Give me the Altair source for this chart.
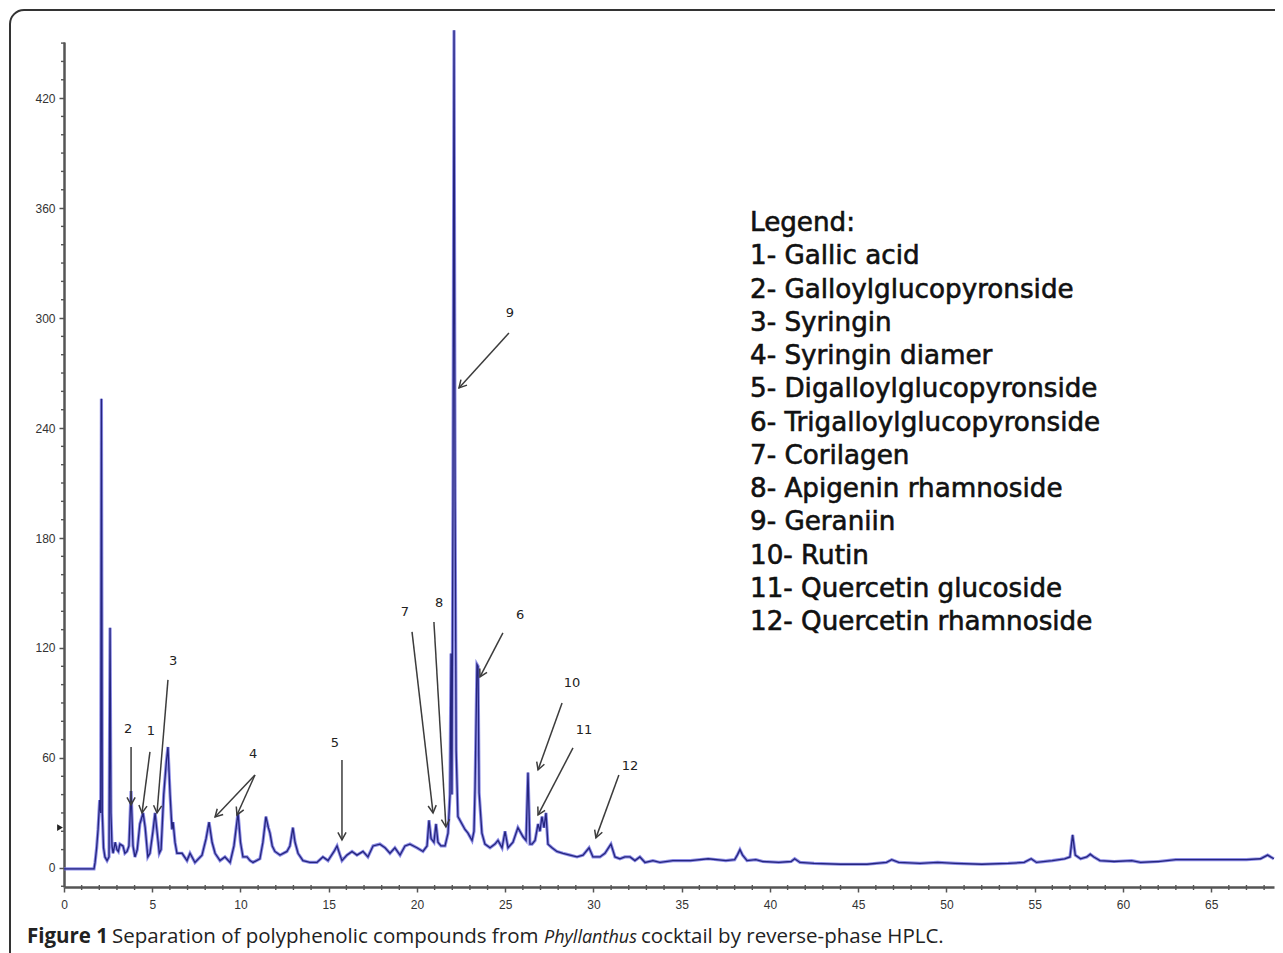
import math
import altair as alt
import pandas as pd

# ---------------- data ----------------
time_min = [
    0.00, 1.70, 1.76, 1.85, 1.93, 2.02, 2.08, 2.12, 2.17, 2.24, 2.32, 2.44, 2.55, 2.61, 2.66, 2.72,
    2.78, 2.90, 3.00, 3.08, 3.17, 3.34, 3.45, 3.57, 3.68, 3.80, 3.91, 4.02, 4.15, 4.30, 4.48, 4.60,
    4.75, 4.87, 5.04, 5.16, 5.27, 5.40, 5.50, 5.65, 5.80, 5.89, 6.01, 6.12, 6.18, 6.29, 6.40, 6.69,
    6.97, 7.14, 7.42, 7.82, 8.05, 8.22, 8.39, 8.56, 8.84, 9.12, 9.41, 9.63, 9.86, 10.00, 10.14, 10.37,
    10.54, 10.71, 11.10, 11.27, 11.44, 11.58, 11.67, 11.80, 11.95, 12.24, 12.63, 12.80, 12.97, 13.09,
    13.26, 13.54, 13.94, 14.33, 14.67, 14.96, 15.30, 15.47, 15.64, 15.75, 16.03, 16.32, 16.60, 16.94,
    17.22, 17.51, 17.90, 18.19, 18.47, 18.75, 19.04, 19.32, 19.60, 20.00, 20.34, 20.57, 20.68, 20.80,
    20.96, 21.08, 21.19, 21.36, 21.59, 21.76, 21.87, 21.93, 21.98, 22.04, 22.10, 22.16, 22.22, 22.32,
    22.55, 22.72, 22.89, 23.12, 23.23, 23.29, 23.40, 23.46, 23.52, 23.68, 23.85, 24.14, 24.42, 24.59,
    24.82, 24.99, 25.16, 25.44, 25.72, 26.01, 26.18, 26.29, 26.40, 26.52, 26.69, 26.86, 26.97, 27.08,
    27.20, 27.31, 27.42, 27.65, 27.93, 28.27, 28.67, 29.07, 29.41, 29.75, 29.97, 30.37, 30.65, 30.99,
    31.22, 31.50, 31.78, 32.07, 32.35, 32.63, 32.92, 33.37, 33.77, 34.50, 35.50, 36.50, 37.50, 38.00,
    38.15, 38.30, 38.45, 38.70, 39.20, 39.60, 40.50, 41.20, 41.40, 41.70, 42.50, 44.00, 45.50, 46.60,
    46.90, 47.30, 48.50, 49.50, 50.50, 52.00, 53.50, 54.40, 54.80, 55.10, 56.00, 56.70, 57.00, 57.15,
    57.30, 57.60, 57.95, 58.15, 58.35, 58.70, 59.50, 60.50, 61.00, 62.00, 63.00, 64.00, 65.00, 66.00,
    67.00, 67.80, 68.20, 68.55,
]
absorbance = [
    -0.5, -0.5, 3, 11, 21, 37, 30, 256, 30, 11, 6, 4, 6, 131, 30, 12,
    8, 14, 10, 9, 13, 12, 8, 9, 12, 42, 12, 6, 10, 24, 30, 22,
    6, 8, 20, 30, 20, 8, 10, 40, 58, 66, 40, 21, 25, 14, 8, 8,
    4, 8, 3, 7, 16, 25, 14, 8, 4, 6, 3, 12, 30, 14, 6, 6,
    4, 3, 5, 14, 28, 22, 19, 12, 9, 7, 9, 12, 22, 14,
    8, 4, 3, 3, 6, 4, 9, 12, 7, 4, 7, 9, 7, 9,
    6, 12, 13, 11, 8, 11, 7, 12, 13, 11, 9, 12, 26, 16,
    14, 24, 14, 12, 12, 19, 40, 117, 40, 200, 457, 200, 64, 28,
    24, 21, 19, 15, 20, 43, 111, 110, 41, 19, 13, 11, 13, 15,
    11, 20, 11, 14, 22, 17, 15, 52, 13, 13, 15, 24, 20, 28,
    22, 30, 13, 11, 9, 8, 7, 6, 7, 11, 6, 6, 8, 13,
    6, 5, 6, 6, 4, 6, 3, 4, 3, 4, 4, 5, 4, 4.5,
    7, 10, 7, 4, 4.5, 3.5, 3, 3.5, 5, 3, 2.5, 2, 2, 3,
    4.5, 3, 2.5, 3, 2.5, 2, 2.5, 3, 5, 3, 4, 5, 6, 18,
    7, 5, 6, 7.5, 6, 4, 3.5, 4, 3, 3.5, 4.5, 4.5, 4.5, 4.5,
    4.5, 5, 7, 5,
]

peak_numbers = ["1", "2", "3", "4", "5", "6", "7", "8", "9", "10", "11", "12"]
compound_names = [
    "Gallic acid", "Galloylglucopyronside", "Syringin", "Syringin diamer",
    "Digalloylglucopyronside", "Trigalloylglucopyronside", "Corilagen",
    "Apigenin rhamnoside", "Geraniin", "Rutin", "Quercetin glucoside",
    "Quercetin rhamnoside",
]

x_ticks = [0, 5, 10, 15, 20, 25, 30, 35, 40, 45, 50, 55, 60, 65]
y_ticks = [0, 60, 120, 180, 240, 300, 360, 420]
x_minor = [t for t in range(0, 69) if t % 5]
y_minor = [v for v in range(-10, 451, 10) if v % 60]

# annotation arrows: peak label, tail (time, value), tip (time, value)
arrow_label = ["2", "1", "3", "4", "4", "5", "7", "8", "9", "6", "10", "11", "12"]
arrow_from_t = [3.80, 4.87, 5.89, 10.82, 10.82, 15.75, 19.72, 20.96, 25.21, 24.87, 28.22, 28.84, 31.44]
arrow_from_v = [66.0, 63.3, 102.6, 50.7, 50.7, 58.9, 128.8, 134.2, 291.9, 128.2, 90.0, 65.5, 50.7]
arrow_to_t = [3.80, 4.42, 5.27, 8.56, 9.80, 15.75, 20.91, 21.64, 22.38, 23.57, 26.86, 26.86, 30.14]
arrow_to_v = [34.4, 30.0, 30.0, 27.8, 28.9, 15.3, 30.0, 22.4, 261.9, 104.2, 53.5, 28.9, 16.4]

label_text = ["2", "1", "3", "4", "5", "7", "8", "9", "6", "10", "11", "12"]
label_t = [3.63, 4.93, 6.18, 10.71, 15.35, 19.32, 21.25, 25.27, 25.84, 28.78, 29.46, 32.07]
label_v = [75.8, 74.7, 112.9, 62.2, 68.2, 139.7, 144.6, 302.8, 138.0, 100.9, 75.3, 55.6]

marker_v = [22]

# ---------------- layout ----------------
W, H = 1210, 845
XMAX = 68.56
YMIN, YMAX = -10.4, 450.6
SX = W / XMAX
SY = H / (YMAX - YMIN)
PAD_L, PAD_T = 56, 34


def px_t(page_x):
    return (page_x - 8 - PAD_L) / SX


def px_v(page_y):
    return YMAX - (page_y - 8 - PAD_T) / SY


xscale = alt.Scale(domain=[0, XMAX], nice=False, zero=False)
yscale = alt.Scale(domain=[YMIN, YMAX], nice=False, zero=False)

AX = dict(title=None, grid=False, domainColor="#555555", domainWidth=2.5,
          tickColor="#555555", tickWidth=1.5, tickSize=5,
          labelFont="Liberation Sans", labelFontSize=12, labelColor="#333333")

x_axis = alt.Axis(values=x_ticks, labelFlush=False, labelPadding=7, **AX)
y_axis = alt.Axis(values=y_ticks, labelPadding=4, **AX)


def X(f):
    return alt.X(f, scale=xscale, axis=x_axis)


def Y(f):
    return alt.Y(f, scale=yscale, axis=y_axis)


trace_df = pd.DataFrame({"t": time_min, "v": absorbance})
one = pd.DataFrame({"k": [0]})

frame = alt.Chart(one).mark_rect(
    fillOpacity=0, stroke="#333333", strokeWidth=2, cornerRadius=14
).encode(x=alt.value(-54), x2=alt.value(1250), y=alt.value(-32), y2=alt.value(960))

xm = alt.Chart(pd.DataFrame({"t": x_minor})).mark_rule(color="#555555", strokeWidth=1.4).encode(
    x=X("t:Q"), y=alt.value(H - 2), y2=alt.value(H + 3))
ym = alt.Chart(pd.DataFrame({"v": y_minor})).mark_rule(color="#555555", strokeWidth=1.4).encode(
    y=Y("v:Q"), x=alt.value(-3), x2=alt.value(1))

halo = alt.Chart(trace_df).mark_line(color="#7070e0", strokeWidth=3.2, opacity=0.8).encode(
    x=X("t:Q"), y=Y("v:Q"))
core = alt.Chart(trace_df).mark_line(color="#25257e", strokeWidth=1.3).encode(
    x=X("t:Q"), y=Y("v:Q"))

marker = alt.Chart(pd.DataFrame({"v": marker_v})).mark_point(
    shape="triangle-right", filled=True, color="#222222", size=45, opacity=1
).encode(x=alt.value(-4), y=Y("v:Q"))

angles = []
for t1, v1, t2, v2 in zip(arrow_from_t, arrow_from_v, arrow_to_t, arrow_to_v):
    dx = (t2 - t1) * SX
    dy = -(v2 - v1) * SY
    angles.append(math.degrees(math.atan2(-dx, dy)) % 360)

arr_df = pd.DataFrame({"lab": arrow_label, "t1": arrow_from_t, "v1": arrow_from_v,
                       "t2": arrow_to_t, "v2": arrow_to_v, "ang": angles})

rules = alt.Chart(arr_df).mark_rule(color="#3c3c3c", strokeWidth=1.5).encode(
    x=X("t1:Q"), y=Y("v1:Q"), x2="t2:Q", y2="v2:Q")
heads = alt.Chart(arr_df).mark_point(
    shape="M -0.55 -1 L 0 0 L 0.55 -1", filled=False, size=220, color="#3c3c3c",
    strokeWidth=1.5, opacity=1
).encode(x=X("t2:Q"), y=Y("v2:Q"), angle=alt.Angle("ang:Q", scale=None))

lab_df = pd.DataFrame({"lab": label_text, "t": label_t, "v": label_v})
labels = alt.Chart(lab_df).mark_text(font="DejaVu Sans", fontSize=13, color="#222222").encode(
    x=X("t:Q"), y=Y("v:Q"), text="lab:N")

# legend block (text)
row_y = [px_v(223 + 33.25 * i) for i in range(13)]
legend_df = pd.DataFrame({
    "txt": ["Legend:"] + [n + "- " + c for n, c in zip(peak_numbers, compound_names)],
    "t": [px_t(750)] * 13,
    "v": row_y,
})
leg_text = alt.Chart(legend_df).mark_text(
    font="DejaVu Sans", fontSize=26.2, color="#111111", stroke="#111111", strokeWidth=0.6,
    align="left", baseline="middle"
).encode(x=X("t:Q"), y=Y("v:Q"), text="txt:N")

# caption
CAP_BASE = 943 - 8 - PAD_T


def cap(text, page_x, size=20.5, **kw):
    return alt.Chart(one).mark_text(
        text=text, font="Open Sans", fontSize=size, color="#222222", align="left",
        baseline="alphabetic", **kw
    ).encode(x=alt.value(page_x - 8 - PAD_L), y=alt.value(CAP_BASE))


captions = [
    cap("Figure 1", 27, fontWeight="bold"),
    cap("Separation of polyphenolic compounds from", 112),
    cap("Phyllanthus", 544, size=18, fontStyle="italic"),
    cap("cocktail by reverse-phase HPLC.", 641),
]

chart = alt.layer(
    frame, xm, ym, halo, core, marker, rules, heads, labels, leg_text, *captions
).properties(
    width=W, height=H,
    autosize=alt.AutoSizeParams(type="none"),
    padding={"left": PAD_L, "top": PAD_T, "right": 1, "bottom": 66},
).configure_view(strokeWidth=0)

chart.save("out.html", embed_options={"renderer": "svg", "actions": False})
